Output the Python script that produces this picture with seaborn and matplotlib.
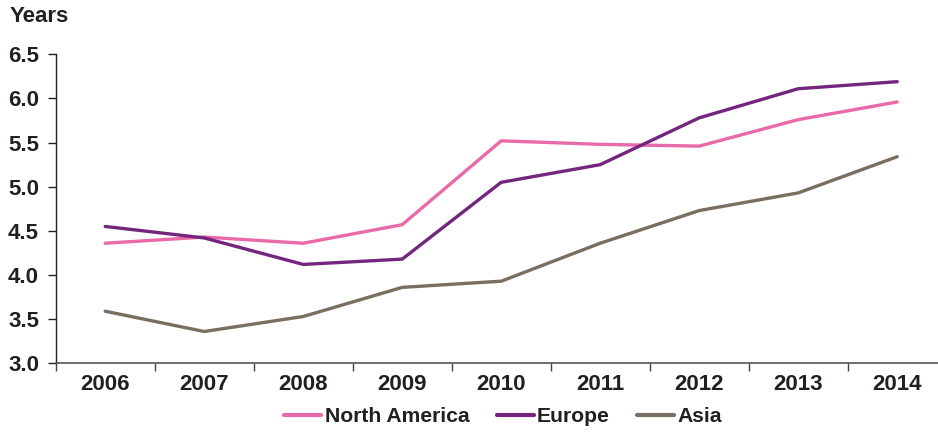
import pandas as pd
import matplotlib
matplotlib.use("Agg")
import matplotlib.pyplot as plt
import seaborn as sns

# data
years = ["2006", "2007", "2008", "2009", "2010", "2011", "2012", "2013", "2014"]
north_america = [4.36, 4.43, 4.36, 4.57, 5.52, 5.48, 5.46, 5.76, 5.96]
europe = [4.55, 4.42, 4.12, 4.18, 5.05, 5.25, 5.78, 6.11, 6.19]
asia = [3.59, 3.36, 3.53, 3.86, 3.93, 4.36, 4.73, 4.93, 5.34]
regions = ["North America", "Europe", "Asia"]
colors = ["#E96AA8", "#74267F", "#786F60"]

rows = []
for name, vals in zip(regions, [north_america, europe, asia]):
    for i, v in enumerate(vals):
        rows.append({"idx": i, "value": v, "region": name})
df = pd.DataFrame(rows)

sns.set_style("white")
plt.rcParams["font.family"] = ["Liberation Sans", "DejaVu Sans"]
plt.rcParams["font.weight"] = "bold"
FS = 16

fig = plt.figure(figsize=(9.38, 4.32), dpi=100)
ax = fig.add_axes([55.7 / 938, (432 - 363.3) / 432, 891 / 938, 309 / 432])

sns.lineplot(data=df, x="idx", y="value", hue="region", hue_order=regions,
             palette=colors, linewidth=2.4, ax=ax)

ax.set_xlim(-0.5, 8.5)
ax.set_ylim(3.0, 6.5)
ax.set_yticks([3.0, 3.5, 4.0, 4.5, 5.0, 5.5, 6.0, 6.5])
ax.set_yticklabels([f"{v:.1f}" for v in ax.get_yticks()], fontsize=FS, fontweight="bold", color="#231F20")
ax.set_xticks(range(len(years)))
ax.set_xticklabels(years, fontsize=FS, fontweight="bold", color="#231F20")
ax.set_xticks([i - 0.5 for i in range(len(years) + 1)], minor=True)
ax.tick_params(axis="x", which="major", bottom=True, length=0, pad=8)
ax.tick_params(axis="x", which="minor", bottom=True, length=6, width=1, color="#444444", direction="out")
ax.tick_params(axis="y", left=True, length=6, width=1, color="#231F20", direction="out", pad=6)
ax.set_xlabel("")
ax.set_ylabel("")

for s in ["top", "right"]:
    ax.spines[s].set_visible(False)
ax.spines["left"].set_color("#231F20")
ax.spines["left"].set_linewidth(1)
ax.spines["bottom"].set_color("#555555")
ax.spines["bottom"].set_linewidth(1.2)

fig.text(10 / 938, 1 - 17 / 432, "Years", fontsize=FS, fontweight="bold",
         color="#231F20", va="center", ha="left")

handles, labels = ax.get_legend_handles_labels()
for h in handles:
    h.set_linewidth(3)
ax.legend(handles, labels, loc="center", bbox_to_anchor=(503 / 938, 1 - 417 / 432),
          bbox_transform=fig.transFigure, ncol=3, frameon=False, fontsize=15.2,
          handlelength=1.75, handletextpad=0.15, columnspacing=1.3, borderaxespad=0)
for t in ax.get_legend().get_texts():
    t.set_fontweight("bold")
    t.set_color("#231F20")

fig.savefig("out.png", dpi=100)
